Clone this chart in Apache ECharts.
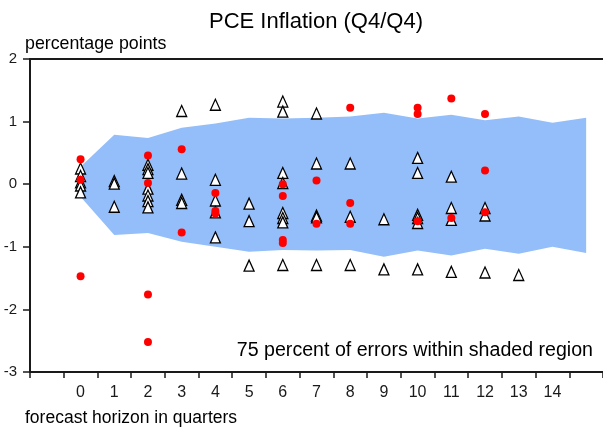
<!DOCTYPE html>
<html>
<head>
<meta charset="utf-8">
<script src="https://cdn.jsdelivr.net/npm/echarts@6/dist/echarts.min.js"></script>
<style>
  html, body { margin: 0; padding: 0; background: #fff; }
  #chart { width: 603px; height: 433px; }
</style>
</head>
<body>
<div id="chart"></div>
<script>
// x categories: empty slot on each side of horizons 0..14
const categories = ['', '0', '1', '2', '3', '4', '5', '6', '7', '8', '9', '10', '11', '12', '13', '14', '']
const yTicks = [-3, -2, -1, 0, 1, 2]

// shaded 75 percent region, horizons 0..15
const bandUpper = [0.28, 0.79, 0.74, 0.90, 0.97, 1.06, 1.05, 1.06, 1.08, 1.14, 1.05, 1.11, 1.02, 1.08, 0.98, 1.06]
const bandLower = [-0.20, -0.81, -0.78, -0.92, -1.00, -1.08, -1.05, -1.06, -1.05, -1.16, -1.06, -1.14, -1.03, -1.11, -1.00, -1.10]

// errors by horizon (triangles)
const triangleErrors = [
  [0.25, 0.13, 0.03, -0.02, -0.13],
  [0.05, 0.01, -0.36],
  [0.31, 0.24, 0.18, -0.07, -0.18, -0.27, -0.37],
  [1.17, 0.17, -0.25, -0.30],
  [1.27, 0.07, -0.26, -0.45, -0.85],
  [-0.31, -0.59, -1.30],
  [1.32, 1.16, 0.18, 0.02, -0.46, -0.54, -0.61, -1.29],
  [1.13, 0.33, -0.50, -0.53, -1.29],
  [0.33, -0.52, -1.29],
  [-0.56, -1.36],
  [0.42, 0.18, -0.49, -0.54, -0.62, -1.36],
  [0.12, -0.38, -0.57, -1.40],
  [-0.38, -0.50, -1.41],
  [-1.45]
]

// errors by horizon (red dots)
const dotErrors = [
  [0.40, 0.07, -1.47],
  [],
  [0.46, 0.02, -1.76, -2.52],
  [0.56, -0.77],
  [-0.14, -0.43, -0.47],
  [],
  [0.00, -0.19, -0.89, -0.94],
  [0.06, -0.63],
  [1.22, -0.30, -0.63],
  [],
  [1.22, 1.12, -0.59],
  [1.37, -0.54],
  [1.12, 0.22, -0.45]
]

function toPoints(groups) {
  const out = []
  groups.forEach((vals, h) => {
    vals.forEach(v => out.push([h + 1, v]))
  })
  return out
}

const bandData = bandUpper.map((u, h) => [h + 1, u, bandLower[h]])

const FONT = 'Arial, "Liberation Sans", sans-serif'

const chart = echarts.init(document.getElementById('chart'), null, { renderer: 'canvas' })

const options = {
  animation: false,
  backgroundColor: '#fff',
  grid: {
    left: 30,
    right: 0,
    top: 59,
    bottom: 61
  },
  xAxis: [{
    type: 'category',
    data: categories,
    boundaryGap: true,
    axisLine: { show: true, onZero: false, lineStyle: { color: '#1a1a1a', width: 2 } },
    axisTick: { show: true, length: 6, lineStyle: { color: '#1a1a1a', width: 1.5 } },
    axisLabel: { color: '#1a1a1a', fontSize: 16, fontFamily: FONT, margin: 13, interval: 0 },
    splitLine: { show: false }
  }, {
    // top frame line
    type: 'category',
    position: 'top',
    data: categories,
    axisLine: { show: true, onZero: false, lineStyle: { color: '#1a1a1a', width: 2 } },
    axisTick: { show: false },
    axisLabel: { show: false }
  }],
  yAxis: {
    type: 'value',
    min: yTicks[0],
    max: yTicks[yTicks.length - 1],
    interval: 1,
    axisLine: { show: true, onZero: false, lineStyle: { color: '#1a1a1a', width: 2 } },
    axisTick: { show: true, length: 7, lineStyle: { color: '#1a1a1a', width: 1.5 } },
    axisLabel: { color: '#1a1a1a', fontSize: 15, fontFamily: FONT, margin: 13 },
    splitLine: { show: false }
  },
  series: [{
    type: 'custom',
    data: bandData,
    encode: { x: 0, y: 1 },
    z: 1,
    silent: true,
    renderItem(params, api) {
      if (params.dataIndex !== 0) return
      const top = bandData.map(d => api.coord([d[0], d[1]]))
      const bottom = bandData.map(d => api.coord([d[0], d[2]])).reverse()
      return {
        type: 'polygon',
        shape: { points: top.concat(bottom) },
        style: { fill: '#94bef9' }
      }
    }
  }, {
    type: 'scatter',
    data: toPoints(triangleErrors),
    symbol: 'triangle',
    symbolSize: [10, 11],
    z: 3,
    itemStyle: { color: '#fff', borderColor: '#000', borderWidth: 1.3, opacity: 1 }
  }, {
    type: 'scatter',
    data: toPoints(dotErrors),
    symbol: 'circle',
    symbolSize: 8,
    z: 4,
    itemStyle: { color: '#ff0000', opacity: 1 }
  }],
  graphic: [{
    type: 'text', x: 316, y: 22,
    style: { text: 'PCE Inflation (Q4/Q4)', font: '22px ' + FONT, fill: '#000', textAlign: 'center', textVerticalAlign: 'middle' }
  }, {
    type: 'text', x: 25, y: 44,
    style: { text: 'percentage points', font: '17.8px ' + FONT, fill: '#000', textAlign: 'left', textVerticalAlign: 'middle' }
  }, {
    type: 'text', x: 25, y: 418,
    style: { text: 'forecast horizon in quarters', font: '17.5px ' + FONT, fill: '#000', textAlign: 'left', textVerticalAlign: 'middle' }
  }, {
    type: 'text', x: 593, y: 351,
    style: { text: '75 percent of errors within shaded region', font: '19.6px ' + FONT, fill: '#000', textAlign: 'right', textVerticalAlign: 'middle' }
  }]
}

chart.setOption(options)
</script>
</body>
</html>
